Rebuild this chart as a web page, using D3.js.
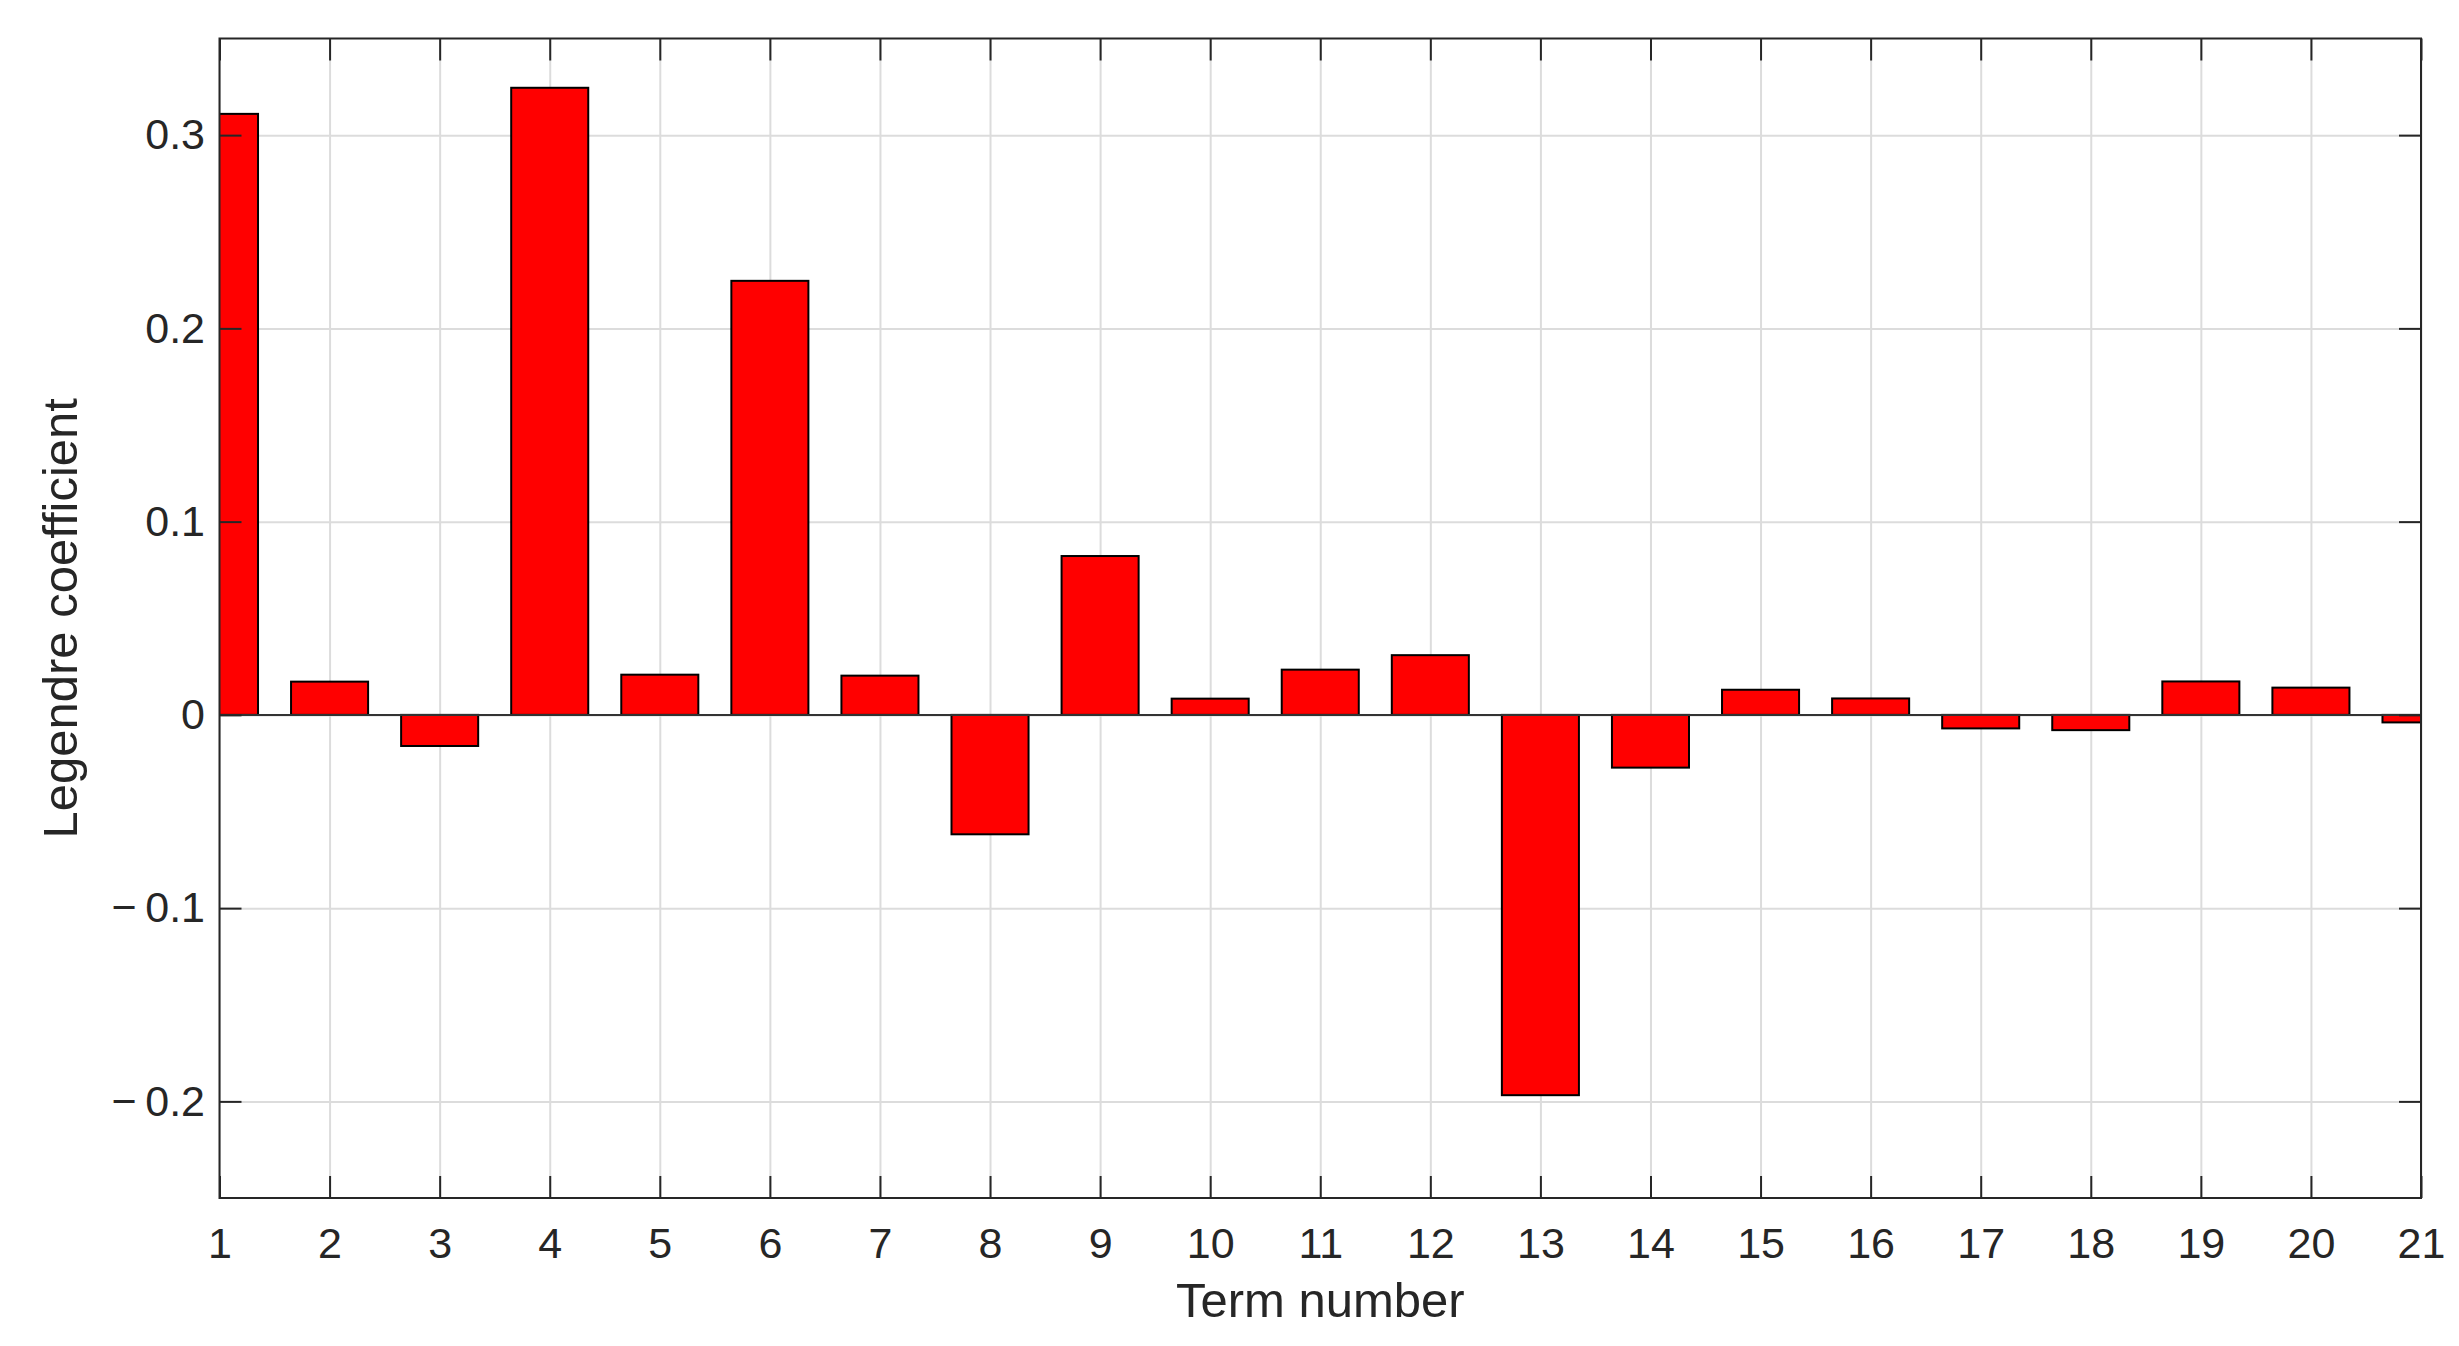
<!DOCTYPE html>
<html>
<head>
<meta charset="utf-8">
<script src="https://cdn.jsdelivr.net/npm/d3@7"></script>
<style>
  body { margin: 0; background: #fff; }
  svg { display: block; font-family: "Liberation Sans", Arial, Helvetica, sans-serif; }
</style>
</head>
<body>
<div id="chart"></div>
<script>
// term numbers and their Legendre coefficients
const terms = d3.range(1, 22);
const coefficients = [
  0.311, 0.0172, -0.0161, 0.3245, 0.0208, 0.2246, 0.0203, -0.0618, 0.0822, 0.0084,
  0.0234, 0.0309, -0.1968, -0.0273, 0.0130, 0.0085, -0.0070, -0.0079, 0.0173, 0.0141,
  -0.0039,
];
const yTicks = [-0.2, -0.1, 0, 0.1, 0.2, 0.3];
const xLabel = 'Term number';
const yLabel = 'Legendre coefficient';

const width = 2459;
const height = 1346;
const margin = { top: 38.5, right: 38, bottom: 148, left: 219.5 };
const innerW = width - margin.left - margin.right;
const innerH = height - margin.top - margin.bottom;
const barWidth = 0.7; // in term units
const tickLen = 22;
const ink = '#262626';

const data = terms.map((t, i) => ({ term: t, value: coefficients[i] }));

const x = d3.scaleLinear().domain([1, 21]).range([0, innerW]);
const y = d3.scaleLinear().domain([-0.25, 0.35]).range([innerH, 0]);

const svg = d3.select('#chart')
  .append('svg')
  .attr('width', width)
  .attr('height', height);

svg.append('defs').append('clipPath')
  .attr('id', 'plot-clip')
  .append('rect')
  .attr('width', innerW)
  .attr('height', innerH);

const g = svg.append('g')
  .attr('transform', `translate(${margin.left},${margin.top})`);

// grid lines
g.append('g')
  .attr('transform', `translate(0,${innerH})`)
  .call(d3.axisBottom(x).tickValues(terms).tickSize(-innerH).tickFormat(''))
  .call(s => s.select('.domain').remove())
  .call(s => s.selectAll('line').attr('stroke', '#dcdcdc').attr('stroke-width', 2));

g.append('g')
  .call(d3.axisLeft(y).tickValues(yTicks).tickSize(-innerW).tickFormat(''))
  .call(s => s.select('.domain').remove())
  .call(s => s.selectAll('line').attr('stroke', '#dcdcdc').attr('stroke-width', 2));

// bars
g.append('g')
  .attr('clip-path', 'url(#plot-clip)')
  .selectAll('rect')
  .data(data)
  .enter()
  .append('rect')
  .attr('x', d => x(d.term - barWidth / 2))
  .attr('width', x(1 + barWidth) - x(1))
  .attr('y', d => y(Math.max(0, d.value)))
  .attr('height', d => Math.abs(y(d.value) - y(0)))
  .attr('fill', '#ff0000')
  .attr('stroke', '#000')
  .attr('stroke-width', 2);

// bar baseline
g.append('line')
  .attr('x1', 0)
  .attr('x2', innerW)
  .attr('y1', y(0))
  .attr('y2', y(0))
  .attr('stroke', '#333')
  .attr('stroke-width', 2);

const fmtY = d => (d < 0 ? '\u2212\u2009' + d3.format('.1f')(-d) : (d === 0 ? '0' : d3.format('.1f')(d)));

function styleAxis(s) {
  s.select('.domain').remove();
  s.selectAll('line').attr('stroke', ink).attr('stroke-width', 2);
  s.selectAll('text').attr('fill', ink).style('font-size', '43px')
    .style('font-family', '"Liberation Sans", Arial, Helvetica, sans-serif');
}

// bottom and top axes (ticks point inward)
g.append('g')
  .attr('transform', `translate(0,${innerH})`)
  .call(d3.axisBottom(x).tickValues(terms).tickSize(-tickLen).tickPadding(29.5).tickFormat(d3.format('d')))
  .call(styleAxis);

g.append('g')
  .call(d3.axisTop(x).tickValues(terms).tickSize(-tickLen).tickFormat(''))
  .call(styleAxis);

// left and right axes
g.append('g')
  .call(d3.axisLeft(y).tickValues(yTicks).tickSize(-tickLen).tickPadding(14.5).tickFormat(fmtY))
  .call(styleAxis);

g.append('g')
  .attr('transform', `translate(${innerW},0)`)
  .call(d3.axisRight(y).tickValues(yTicks).tickSize(-tickLen).tickFormat(''))
  .call(styleAxis);

// box
g.append('rect')
  .attr('width', innerW)
  .attr('height', innerH)
  .attr('fill', 'none')
  .attr('stroke', ink)
  .attr('stroke-width', 2);

// axis titles
svg.append('text')
  .attr('x', margin.left + innerW / 2)
  .attr('y', 1317)
  .attr('text-anchor', 'middle')
  .attr('fill', ink)
  .style('font-size', '49px')
  .text(xLabel);

svg.append('text')
  .attr('transform', `translate(77,${margin.top + innerH / 2}) rotate(-90)`)
  .attr('text-anchor', 'middle')
  .attr('fill', ink)
  .style('font-size', '49px')
  .text(yLabel);
</script>
</body>
</html>
